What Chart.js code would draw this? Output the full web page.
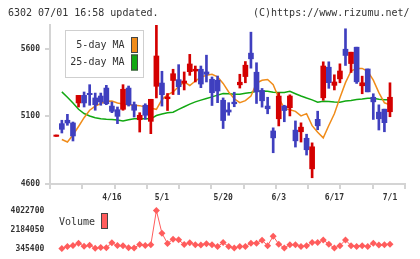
<!DOCTYPE html>
<html lang="en">
<head>
<meta charset="UTF-8">
<title>6302 Daily Chart</title>
<script src="https://cdn.jsdelivr.net/npm/chart.js"></script>
<style>
    body { margin: 0; background: #fff; }
    #wrap {
        position: relative;
        width: 420px;
        height: 259px;
        overflow: hidden;
        font-family: 'DejaVu Sans Mono', monospace;
    }
    .hdr {
        position: absolute;
        top: 7px;
        font-size: 10px;
        line-height: 12px;
        color: #333;
        white-space: pre;
    }
    canvas { position: absolute; left: 0; }
    #priceChart { top: 0; }
    #volChart { top: 200px; }
</style>
</head>
<body>

<div id="wrap">
    <canvas id="priceChart" width="420" height="210"></canvas>
    <canvas id="volChart" width="420" height="59"></canvas>
    <div class="hdr" style="left:8px">6302 07/01 16:58 updated.</div>
    <div class="hdr" style="left:253px">(C)https://www.rizumu.net/</div>
</div>

<script>
    // daily prices, 61 sessions (first one is a flat marker)
    const open = [
        4952, 5046, 5071, 5051, 5199, 5255, 5270, 5236, 5250, 5309,
        5176, 5149, 5152, 5309, 5186, 5075, 5182, 5063, 5322, 5346,
        5230, 5365, 5371, 5346, 5430, 5435, 5448, 5428, 5374, 5367,
        5219, 5147, 5205, 5333, 5394, 5567, 5426, 5291, 5176, 4992,
        5082, 5176, 5164, 4998, 4986, 4938, 4712, 5078, 5237, 5463,
        5329, 5377, 5596, 5490, 5611, 5326, 5450, 5241, 5131, 5153, 5134
    ];
    const high = [
        4962, 5071, 5115, 5058, 5255, 5280, 5334, 5272, 5272, 5329,
        5206, 5169, 5334, 5324, 5206, 5127, 5193, 5226, 5773, 5433,
        5269, 5448, 5482, 5428, 5558, 5472, 5472, 5552, 5391, 5398,
        5236, 5201, 5278, 5411, 5505, 5722, 5496, 5306, 5241, 5015,
        5274, 5182, 5259, 5066, 5052, 4968, 4904, 5138, 5503, 5503,
        5407, 5488, 5747, 5574, 5611, 5397, 5450, 5267, 5185, 5153, 5348
    ];
    const low = [
        4952, 4977, 5034, 4918, 5169, 5169, 5182, 5145, 5182, 5186,
        5127, 5046, 5145, 5176, 5095, 4984, 5078, 4972, 5236, 5176,
        5143, 5261, 5261, 5295, 5403, 5354, 5312, 5354, 5180, 5201,
        5010, 5108, 5171, 5309, 5348, 5456, 5195, 5168, 5119, 4831,
        5029, 5060, 5103, 4873, 4910, 4814, 4646, 5001, 5219, 5307,
        5295, 5348, 5476, 5424, 5343, 5267, 5281, 5077, 4999, 4986, 5097
    ];
    const close = [
        4962, 5004, 5051, 4955, 5255, 5199, 5260, 5186, 5206, 5193,
        5137, 5100, 5300, 5186, 5145, 5108, 5108, 5226, 5546, 5260,
        5243, 5415, 5319, 5361, 5487, 5448, 5339, 5411, 5275, 5287,
        5069, 5132, 5193, 5352, 5478, 5525, 5281, 5215, 5156, 4941,
        5250, 5143, 5250, 4919, 5020, 4853, 4875, 5030, 5472, 5349,
        5354, 5435, 5550, 5574, 5355, 5348, 5281, 5207, 5082, 5053, 5241
    ];
    const ma5 = [
        null, 4929, 4910, 4962, 5025, 5090, 5145, 5176, 5195, 5211,
        5213, 5199, 5191, 5185, 5182, 5179, 5168, 5160, 5152, 5224,
        5258, 5280, 5320, 5354, 5328, 5361, 5389, 5404, 5411, 5392,
        5343, 5280, 5230, 5201, 5216, 5250, 5346, 5367, 5372, 5334,
        5236, 5159, 5148, 5137, 5103, 5120, 5031, 4982, 4941, 5032,
        5119, 5238, 5349, 5435, 5454, 5454, 5433, 5367, 5275, 5200, 5185
    ];
    const ma25 = [
        null, 5281, 5241, 5199, 5152, 5121, 5103, 5090, 5083, 5078,
        5077, 5073, 5066, 5075, 5083, 5082, 5082, 5082, 5106, 5117,
        5127, 5131, 5152, 5171, 5190, 5207, 5220, 5232, 5244, 5257,
        5269, 5267, 5263, 5263, 5271, 5276, 5285, 5288, 5286, 5278,
        5276, 5276, 5285, 5267, 5250, 5235, 5222, 5205, 5212, 5210,
        5206, 5204, 5213, 5217, 5224, 5228, 5234, 5233, 5227, 5222, 5222
    ];
    const volume = [
        null, 345400, 529000, 630000, 860000, 557000, 649000, 373000, 447000, 419000,
        906000, 630000, 603000, 419000, 400000, 722000, 630000, 704000, 4022700, 1825000,
        832000, 1246000, 1182000, 722000, 906000, 704000, 695000, 814000, 713000, 529000,
        924000, 529000, 400000, 529000, 529000, 860000, 860000, 1136000, 621000, 1540000,
        768000, 400000, 713000, 713000, 529000, 621000, 924000, 924000, 1172000, 768000,
        400000, 621000, 1172000, 621000, 529000, 621000, 529000, 860000, 676000, 713000, 768000
    ];

    const dateLabels = ['4/16', '5/1', '5/20', '6/3', '6/17', '7/1'];
    const dateIndex = [10, 19, 30, 40, 50, 60];
    const priceTicks = [4600, 5100, 5600];
    const volumeTicks = [345400, 2184050, 4022700];

    const RED = '#d40000';
    const BLUE = '#3f3fbf';
    const ORANGE = '#f08c1a';
    const GREEN = '#12a812';
    const VOL = '#ff5c5c';
    const AXIS = '#d4d4d4';
    const xMin = -1.13, xMax = 62.7;
    const tickFont = { family: 'DejaVu Sans Mono', size: 8, weight: 'bold' };

    const idx = open.map((_, i) => i);
    const candleColors = idx.map(i => close[i] >= open[i] ? RED : BLUE);

    // legend box inside the price plot
    const maLegend = {
        id: 'maLegend',
        afterDraw(chart) {
            const ctx = chart.ctx;
            ctx.save();
            ctx.fillStyle = '#fff';
            ctx.fillRect(65.5, 30.5, 78, 47);
            ctx.strokeStyle = '#cfcfcf';
            ctx.lineWidth = 1;
            ctx.strokeRect(65.5, 30.5, 78, 47);
            ctx.font = '10px "DejaVu Sans Mono"';
            ctx.textAlign = 'right';
            ctx.textBaseline = 'middle';
            const items = chart.data.datasets.filter(d => d.type === 'line');
            items.forEach((d, k) => {
                const cy = 45 + k * 17.5;
                ctx.fillStyle = '#333';
                ctx.fillText(d.label, 124.5, cy);
                ctx.fillStyle = d.borderColor;
                ctx.fillRect(131, cy - 8, 7, 16);
                ctx.strokeStyle = '#444';
                ctx.strokeRect(131.5, cy - 7.5, 6, 15);
            });
            ctx.restore();
        }
    };

    new Chart(document.getElementById('priceChart'), {
        type: 'bar',
        data: {
            datasets: [
                {
                    label: 'body',
                    data: idx.map(i => ({ x: i, y: [open[i], close[i]] })),
                    backgroundColor: candleColors,
                    barThickness: 5,
                    grouped: false,
                    minBarLength: 1,
                    order: 0
                },
                {
                    label: 'wick',
                    data: idx.map(i => ({ x: i, y: [low[i], high[i]] })),
                    backgroundColor: candleColors,
                    barThickness: 2,
                    grouped: false,
                    order: 1
                },
                {
                    type: 'line',
                    label: '5-day MA',
                    data: idx.map(i => ({ x: i, y: ma5[i] })),
                    borderColor: ORANGE,
                    borderWidth: 1.5,
                    pointRadius: 0,
                    order: 2
                },
                {
                    type: 'line',
                    label: '25-day MA',
                    data: idx.map(i => ({ x: i, y: ma25[i] })),
                    borderColor: GREEN,
                    borderWidth: 1.5,
                    pointRadius: 0,
                    order: 3
                }
            ]
        },
        options: {
            responsive: false,
            animation: false,
            events: [],
            layout: { padding: { top: 25, right: 15, left: 0, bottom: 0 } },
            plugins: { legend: { display: false }, tooltip: { enabled: false } },
            scales: {
                x: {
                    type: 'linear',
                    position: 'bottom',
                    min: xMin,
                    max: xMax,
                    offset: false,
                    weight: 0,
                    afterBuildTicks: s => {
                        s.ticks = Array.from({ length: 12 }, (_, k) => ({ value: xMin + k * (xMax - xMin) / 11 }));
                    },
                    afterFit: s => { s.height = 8; },
                    ticks: { display: false },
                    grid: { drawOnChartArea: false, offset: false, color: AXIS, lineWidth: 2, tickLength: 5 },
                    border: { color: AXIS, width: 2 }
                },
                x2: {
                    type: 'linear',
                    position: 'bottom',
                    axis: 'x',
                    min: xMin,
                    max: xMax,
                    offset: false,
                    weight: 1,
                    afterBuildTicks: s => { s.ticks = dateIndex.map(v => ({ value: v })); },
                    afterFit: s => { s.height = 18; },
                    ticks: {
                        font: tickFont,
                        color: '#333',
                        padding: 1,
                        autoSkip: false,
                        maxRotation: 0,
                        callback: (v, k) => dateLabels[k]
                    },
                    grid: { display: false, drawTicks: false },
                    border: { display: false }
                },
                y: {
                    min: 4600,
                    max: 5775,
                    afterBuildTicks: s => { s.ticks = priceTicks.map(v => ({ value: v })); },
                    afterFit: s => { s.width = 50; },
                    ticks: { font: tickFont, color: '#333', padding: 5, callback: v => String(v) },
                    grid: { drawOnChartArea: false, color: AXIS, lineWidth: 2, tickLength: 5 },
                    border: { color: AXIS, width: 2 }
                }
            }
        },
        plugins: [maLegend]
    });

    // volume legend
    const volLegend = {
        id: 'volLegend',
        afterDraw(chart) {
            const ctx = chart.ctx;
            ctx.save();
            ctx.font = '10px "DejaVu Sans Mono"';
            ctx.textAlign = 'left';
            ctx.textBaseline = 'middle';
            ctx.fillStyle = '#333';
            ctx.fillText(chart.data.datasets[0].label, 59, 22.3);
            ctx.fillStyle = VOL;
            ctx.fillRect(101, 13, 7, 16);
            ctx.strokeStyle = '#444';
            ctx.lineWidth = 1;
            ctx.strokeRect(101.5, 13.5, 6, 15);
            ctx.restore();
        }
    };

    new Chart(document.getElementById('volChart'), {
        type: 'line',
        data: {
            datasets: [{
                label: 'Volume',
                data: idx.map(i => ({ x: i, y: volume[i] })),
                borderColor: VOL,
                backgroundColor: VOL,
                borderWidth: 1,
                pointStyle: 'rectRot',
                pointRadius: 3.5,
                pointBorderWidth: 0,
                clip: false
            }]
        },
        options: {
            responsive: false,
            animation: false,
            events: [],
            layout: { padding: { top: 9.3, right: 15, left: 0, bottom: 9.7 } },
            plugins: { legend: { display: false }, tooltip: { enabled: false } },
            scales: {
                x: { type: 'linear', min: xMin, max: xMax, display: false },
                y: {
                    min: volumeTicks[0],
                    max: volumeTicks[2],
                    afterBuildTicks: s => { s.ticks = volumeTicks.map(v => ({ value: v })); },
                    afterFit: s => { s.width = 50; },
                    ticks: { font: tickFont, color: '#333', padding: 5.7, callback: v => String(v) },
                    grid: { display: false, drawTicks: false },
                    border: { display: false }
                }
            }
        },
        plugins: [volLegend]
    });
</script>

</body>
</html>
